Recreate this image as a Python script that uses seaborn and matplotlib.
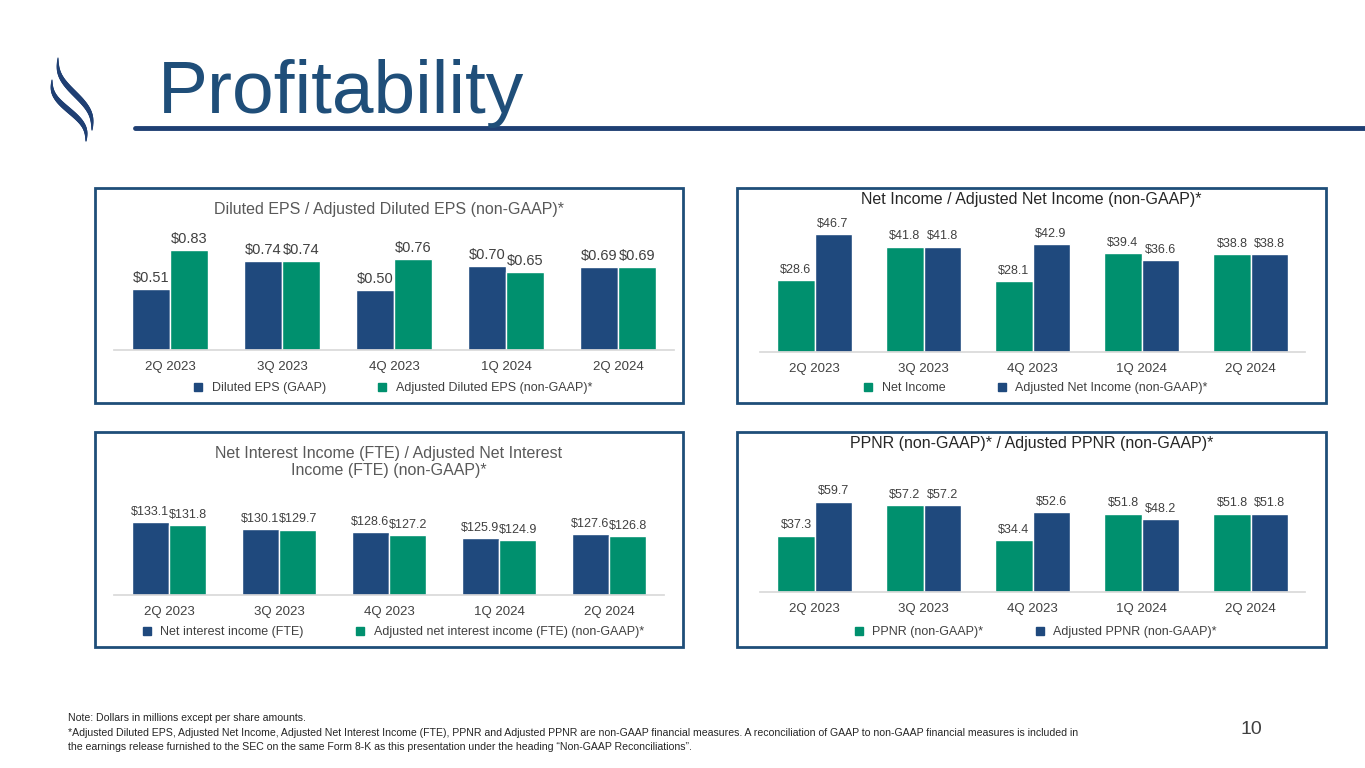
import matplotlib
matplotlib.use("Agg")
import matplotlib.pyplot as plt
import seaborn as sns
import pandas as pd
import numpy as np
from matplotlib.patches import Rectangle, Polygon
from matplotlib.lines import Line2D

sns.set_theme(style="white")
plt.rcParams['font.family'] = ['Liberation Sans', 'DejaVu Sans']

quarters = ["2Q 2023", "3Q 2023", "4Q 2023", "1Q 2024", "2Q 2024"]
eps_gaap = [0.51, 0.74, 0.50, 0.70, 0.69]
eps_adj = [0.83, 0.74, 0.76, 0.65, 0.69]
ni = [28.6, 41.8, 28.1, 39.4, 38.8]
ni_adj = [46.7, 41.8, 42.9, 36.6, 38.8]
nii = [133.1, 130.1, 128.6, 125.9, 127.6]
nii_adj = [131.8, 129.7, 127.2, 124.9, 126.8]
ppnr = [37.3, 57.2, 34.4, 51.8, 51.8]
ppnr_adj = [59.7, 57.2, 52.6, 48.2, 51.8]

BLUE = "#1F497D"
GREEN = "#00906E"
W, H = 1365, 768
fig = plt.figure(figsize=(13.65, 7.68), dpi=100)

def fx(x): return x / W
def fy(y): return 1 - y / H

# Title and rule
fig.text(fx(158), fy(113), "Profitability", fontsize=54, color="#1F4E79", va="baseline")
fig.add_artist(Line2D([fx(135), 1], [fy(128), fy(128)], color="#1F3F73", lw=3.5))
# simple logo: two tapered S-shaped strokes
t = np.linspace(0, 1, 60)
for dx, dy in [(0, 0), (-6, 22)]:
    xs = 58 + dx + 34 * t - 6 * np.sin(2 * np.pi * t)
    ys = 58 + dy + (72 - dy * 0.5) * t
    for i in range(len(t) - 1):
        w = 0.8 + 3.2 * np.sin(np.pi * t[i])
        fig.add_artist(Line2D(fx(xs[i:i + 2]), fy(ys[i:i + 2]), color="#1F3F73",
                              lw=w, solid_capstyle="round"))

def panel(box, axbox, title, tcolor, s1, s2, n1, n2, c1, c2, ylim, fmt, ty, lfs=9.5):
    x0, y0, x1, y1 = box
    fig.add_artist(Rectangle((fx(x0), fy(y1)), fx(x1 - x0), (y1 - y0) / H,
                             fill=False, ec="#1F4E79", lw=2))
    ax0, ay0, ax1, ay1 = axbox
    ax = fig.add_axes([fx(ax0), fy(ay1), fx(ax1 - ax0), (ay1 - ay0) / H])
    df = pd.DataFrame({"q": quarters * 2, "v": s1 + s2,
                       "s": [n1] * 5 + [n2] * 5})
    sns.barplot(data=df, x="q", y="v", hue="s", palette=[c1, c2], width=0.68,
                ax=ax, legend=False, saturation=1)
    for cont in ax.containers:
        ax.bar_label(cont, labels=[fmt(v) for v in cont.datavalues],
                     fontsize=lfs, color="#404040", padding=3)
    ax.set_ylim(*ylim)
    ax.set_xlim(-0.5, 4.5)
    ax.set_xlabel(""); ax.set_ylabel("")
    ax.set_yticks([])
    for sp in ["top", "left", "right"]:
        ax.spines[sp].set_visible(False)
    ax.spines["bottom"].set_color("#D9D9D9")
    ax.tick_params(axis="x", labelsize=9.5, colors="#404040", length=0, pad=8)
    ax.patch.set_alpha(0)
    fig.text(fx((x0 + x1) / 2), fy(ty), title, ha="center", va="top",
             fontsize=11.5, color=tcolor, linespacing=1.15)
    handles = [Line2D([], [], marker="s", ls="", color=c, markersize=6) for c in (c1, c2)]
    fig.legend(handles, [n1, n2], loc="center", bbox_to_anchor=(fx((x0 + x1) / 2), fy(y1 - 15)),
               ncol=2, frameon=False, fontsize=9, handletextpad=0.1, columnspacing=3.5,
               labelcolor="#404040")
    return ax

panel((95, 188, 683, 403), (114, 230, 674, 350),
      "Diluted EPS / Adjusted Diluted EPS (non-GAAP)*", "#595959",
      eps_gaap, eps_adj, "Diluted EPS (GAAP)", "Adjusted Diluted EPS (non-GAAP)*",
      BLUE, GREEN, (0, 1.0), lambda v: f"${v:.2f}", 202, 10.5)
panel((737, 188, 1326, 403), (760, 226, 1305, 352),
      "Net Income / Adjusted Net Income (non-GAAP)*", "#262626",
      ni, ni_adj, "Net Income", "Adjusted Net Income (non-GAAP)*",
      GREEN, BLUE, (0, 50), lambda v: f"${v:.1f}", 192, 9)
panel((95, 432, 683, 647), (114, 507, 664, 595),
      "Net Interest Income (FTE) / Adjusted Net Interest\nIncome (FTE) (non-GAAP)*", "#595959",
      nii, nii_adj, "Net interest income (FTE)", "Adjusted net interest income (FTE) (non-GAAP)*",
      BLUE, GREEN, (100, 140), lambda v: f"${v:.1f}", 446, 9)
panel((737, 432, 1326, 647), (760, 486, 1305, 592),
      "PPNR (non-GAAP)* / Adjusted PPNR (non-GAAP)*", "#262626",
      ppnr, ppnr_adj, "PPNR (non-GAAP)*", "Adjusted PPNR (non-GAAP)*",
      GREEN, BLUE, (0, 70), lambda v: f"${v:.1f}", 436, 9)

fs = 7.6
fig.text(fx(68), fy(718), "Note: Dollars in millions except per share amounts.", fontsize=fs, color="#262626", va="center")
fig.text(fx(68), fy(733), "*Adjusted Diluted EPS, Adjusted Net Income, Adjusted Net Interest Income (FTE), PPNR and Adjusted PPNR are non-GAAP financial measures. A reconciliation of GAAP to non-GAAP financial measures is included in",
         fontsize=fs, color="#262626", va="center")
fig.text(fx(68), fy(747), "the earnings release furnished to the SEC on the same Form 8-K as this presentation under the heading \u201cNon-GAAP Reconciliations\u201d.",
         fontsize=fs, color="#262626", va="center")
fig.text(fx(1240), fy(730), "10", fontsize=14, color="#404040", va="center")

fig.savefig("out.png", dpi=100)
